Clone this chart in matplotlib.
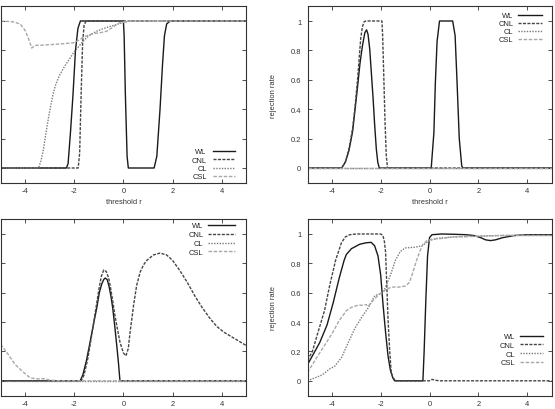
import matplotlib
matplotlib.use('Agg')
import matplotlib.pyplot as plt

plt.rcParams['font.family'] = ['Liberation Sans', 'DejaVu Sans']

# ---------------- data ----------------
series_names = ['WL', 'CNL', 'CL', 'CSL']
x_ticks = [-4, -2, 0, 2, 4]
y_ticks = [0, 0.2, 0.4, 0.6, 0.8, 1]
y_tick_labels = ['0', '0.2', '0.4', '0.6', '0.8', '1']
x_label = 'threshold r'
y_label = 'rejection rate'

# top-left panel
tl_wl_x = [-5, -2.32, -2.25, -2.15, -2.05, -1.95, -1.85, -1.75, 0.0, 0.03, 0.08, 0.15, 0.2,
           1.25, 1.36, 1.49, 1.59, 1.67, 1.76, 1.9, 5]
tl_wl_y = [0, 0, 0.03, 0.25, 0.5, 0.8, 0.95, 1, 1, 0.9, 0.5, 0.08, 0,
           0, 0.08, 0.4, 0.7, 0.9, 0.98, 1, 1]
tl_cnl_x = [-5, -1.84, -1.78, -1.72, -1.66, -1.6, -1.52, 5]
tl_cnl_y = [0, 0, 0.1, 0.5, 0.85, 0.97, 1, 1]
tl_cl_x = [-5, -3.45, -3.35, -3.25, -3.15, -3.05, -2.95, -2.85, -2.75, -2.6, -2.4, -2.2, -2.0,
           -1.8, -1.6, -1.4, -1.1, -0.7, -0.3, 0.0, 0.3, 5]
tl_cl_y = [0, 0, 0.05, 0.13, 0.24, 0.34, 0.43, 0.51, 0.57, 0.63, 0.69, 0.74, 0.79,
           0.83, 0.87, 0.9, 0.93, 0.955, 0.975, 0.99, 1, 1]
tl_csl_x = [-5, -4.5, -4.2, -4.0, -3.86, -3.73, -3.59, -3.3, -2.98, -2.5, -2.03, -1.8, -1.63,
            -1.4, -1.22, -0.95, -0.68, -0.41, -0.14, 0.2, 0.5, 5]
tl_csl_y = [1, 0.995, 0.98, 0.936, 0.88, 0.816, 0.834, 0.836, 0.839, 0.845, 0.852, 0.87, 0.89,
            0.905, 0.914, 0.92, 0.93, 0.96, 0.99, 0.998, 1, 1]

# top-right panel
tr_wl_x = [-5, -3.6, -3.45, -3.3, -3.15, -3.05, -2.95, -2.85, -2.75, -2.65, -2.58, -2.52, -2.45,
           -2.38, -2.31, -2.25, -2.18, -2.12, -2.06, 0.07, 0.18, 0.24, 0.31, 0.41, 0.95, 1.05,
           1.13, 1.22, 1.32, 1.37, 5]
tr_wl_y = [0, 0, 0.04, 0.12, 0.25, 0.4, 0.55, 0.71, 0.83, 0.92, 0.94, 0.91, 0.81,
           0.64, 0.47, 0.3, 0.13, 0.04, 0, 0, 0.24, 0.58, 0.86, 1, 1, 0.9,
           0.58, 0.2, 0.015, 0, 0]
tr_cnl_x = [-5, -3.6, -3.45, -3.3, -3.15, -3.05, -2.95, -2.88, -2.82, -2.75, -2.68, -2.6,
            -1.95, -1.92, -1.87, -1.82, -1.77, -1.72, 5]
tr_cnl_y = [0, 0, 0.04, 0.13, 0.27, 0.42, 0.6, 0.75, 0.88, 0.96, 0.995, 1,
            1, 0.9, 0.6, 0.3, 0.08, 0, 0]
tr_cl_x = [-5, 5]
tr_cl_y = [0, 0]
tr_csl_x = [-5, 5]
tr_csl_y = [0, 0]

# bottom-left panel
bl_wl_x = [-5, -1.76, -1.65, -1.5, -1.36, -1.2, -1.08, -0.98, -0.88, -0.8, -0.74, -0.66, -0.58,
           -0.5, -0.43, -0.35, -0.27, -0.2, -0.14, 5]
bl_wl_y = [0, 0, 0.04, 0.14, 0.26, 0.4, 0.5, 0.6, 0.66, 0.69, 0.70, 0.69, 0.64,
           0.57, 0.49, 0.37, 0.24, 0.12, 0, 0]
bl_cnl_x = [-5, -1.72, -1.6, -1.45, -1.3, -1.15, -1.0, -0.9, -0.8, -0.7, -0.6, -0.54, -0.44,
            -0.34, -0.24, -0.135, 0.0, 0.1, 0.2, 0.27, 0.35, 0.41, 0.54, 0.68, 0.82, 0.95,
            1.22, 1.49, 1.76, 2.0, 2.3, 2.6, 2.9, 3.2, 3.5, 3.8, 4.1, 4.4, 4.7, 5.0]
bl_cnl_y = [0, 0, 0.04, 0.15, 0.3, 0.46, 0.62, 0.71, 0.755, 0.745, 0.7, 0.65, 0.55,
            0.44, 0.35, 0.26, 0.19, 0.17, 0.22, 0.33, 0.43, 0.51, 0.65, 0.74, 0.79, 0.82,
            0.857, 0.87, 0.857, 0.82, 0.75, 0.67, 0.58, 0.5, 0.43, 0.37, 0.33, 0.3, 0.27, 0.24]
bl_cl_x = [-5, 5]
bl_cl_y = [0, 0]
bl_csl_x = [-5, -4.73, -4.4, -4.06, -3.79, -3.5, -3.25, -3.0, -2.6, 5]
bl_csl_y = [0.25, 0.19, 0.11, 0.057, 0.02, 0.013, 0.015, 0.005, 0, 0]

# bottom-right panel
br_wl_x = [-5, -4.8, -4.5, -4.2, -3.95, -3.7, -3.5, -3.41, -3.2, -2.86, -2.6, -2.39, -2.25,
           -2.11, -2.0, -1.91, -1.8, -1.7, -1.6, -1.5, -1.43, -0.27, -0.22, -0.15, -0.08,
           0.0, 0.1, 0.5, 1.0, 1.5, 1.8, 2.1, 2.3, 2.5, 2.7, 3.0, 3.5, 4.0, 5.0]
br_wl_y = [0.11, 0.17, 0.26, 0.38, 0.53, 0.7, 0.82, 0.86, 0.9, 0.93, 0.94, 0.943, 0.92,
           0.85, 0.72, 0.53, 0.33, 0.17, 0.07, 0.02, 0, 0, 0.2, 0.55, 0.85,
           0.975, 0.995, 1, 0.998, 0.995, 0.99, 0.975, 0.96, 0.955, 0.96, 0.975, 0.99, 0.995, 0.995]
br_cnl_x = [-5, -4.8, -4.57, -4.3, -4.09, -3.85, -3.61, -3.45, -3.27, -3.0, -2.0, -1.91, -1.85,
            -1.8, -1.75, -1.7, -1.63, -1.57, -1.5, -1.36, 0.0, 0.1, 0.2, 0.4, 5]
br_cnl_y = [0.14, 0.2, 0.33, 0.48, 0.65, 0.82, 0.94, 0.98, 0.995, 1, 1, 0.99, 0.95,
            0.877, 0.65, 0.42, 0.2, 0.06, 0.02, 0, 0, 0.01, 0.005, 0, 0]
br_cl_x = [-5, -4.7, -4.4, -4.1, -3.88, -3.6, -3.33, -3.05, -2.79, -2.5, -2.24, -1.9, -1.6,
           -1.4, -1.2, -1.0, -0.6, -0.3, 0.0, 0.3, 1.0, 2.0, 3.0, 5.0]
br_cl_y = [0, 0.02, 0.04, 0.08, 0.1, 0.16, 0.26, 0.36, 0.43, 0.5, 0.58, 0.6, 0.72,
           0.82, 0.88, 0.905, 0.91, 0.92, 0.955, 0.97, 0.98, 0.985, 0.99, 0.99]
br_csl_x = [-5, -4.5, -4.0, -3.7, -3.41, -3.2, -2.93, -2.7, -2.6, -2.52, -2.45, -2.3, -2.05,
            -1.8, -1.6, -1.45, -1.36, -1.2, -1.0, -0.82, -0.7, -0.55, -0.4, -0.27, -0.1,
            0.14, 0.5, 1.0, 2.0, 3.0, 5.0]
br_csl_y = [0.057, 0.19, 0.32, 0.41, 0.477, 0.5, 0.515, 0.515, 0.52, 0.506, 0.52, 0.55, 0.59,
            0.62, 0.635, 0.64, 0.636, 0.64, 0.645, 0.67, 0.73, 0.81, 0.88, 0.93, 0.955,
            0.965, 0.97, 0.98, 0.985, 0.99, 0.99]

# panel layout (left panels are cropped at the image edge, so their y texts are not visible;
# the bottom panels' x-axis titles fall below the picture)
panels = [
    dict(data=[(tl_wl_x, tl_wl_y), (tl_cnl_x, tl_cnl_y), (tl_cl_x, tl_cl_y), (tl_csl_x, tl_csl_y)],
         box=(0.5, 7.3, 246.3, 183.7), xlabel=True, ylabel=False,
         leg=(206.7, 212.7, 235.0, 152.0, 8.3)),
    dict(data=[(tr_wl_x, tr_wl_y), (tr_cnl_x, tr_cnl_y), (tr_cl_x, tr_cl_y), (tr_csl_x, tr_csl_y)],
         box=(307.5, 7.3, 551.5, 183.7), xlabel=True, ylabel=True,
         leg=(513.3, 518.3, 541.7, 15.5, 8.0)),
    dict(data=[(bl_wl_x, bl_wl_y), (bl_cnl_x, bl_cnl_y), (bl_cl_x, bl_cl_y), (bl_csl_x, bl_csl_y)],
         box=(0.5, 220.3, 246.3, 396.5), xlabel=False, ylabel=False,
         leg=(203.3, 208.3, 235.0, 226.0, 8.8)),
    dict(data=[(br_wl_x, br_wl_y), (br_cnl_x, br_cnl_y), (br_cl_x, br_cl_y), (br_csl_x, br_csl_y)],
         box=(307.5, 220.3, 551.5, 396.5), xlabel=False, ylabel=True,
         leg=(515.0, 520.0, 543.3, 336.7, 8.7)),
]

styles = [
    dict(color='#1a1a1a', lw=1.0, ls='-'),
    dict(color='#454545', lw=1.0, dashes=(2.2, 1.0)),
    dict(color='#7a7a7a', lw=1.0, dashes=(1.0, 1.0)),
    dict(color='#a8a8a8', lw=1.0, dashes=(2.5, 1.2)),
]

W, H = 555, 410
FS = 5.4
fig = plt.figure(figsize=(W / 100, H / 100), dpi=100)

for p in panels:
    l, t, r, b = p['box']
    ax = fig.add_axes([l / W, 1 - b / H, (r - l) / W, (b - t) / H])
    for (xs, ys), st in zip(p['data'], styles):
        ax.plot(xs, ys, **st)
    ax.set_xlim(-5, 5)
    ax.set_ylim(-0.1, 1.1)
    ax.set_xticks(x_ticks)
    ax.set_xticklabels([str(v) for v in x_ticks])
    ax.set_yticks(y_ticks)
    ax.set_yticklabels(y_tick_labels)
    ax.tick_params(direction='in', length=3.0, width=0.6, top=True, right=True,
                   labelsize=FS, colors='#333333')
    ax.tick_params(axis='x', pad=3.0)
    ax.tick_params(axis='y', pad=4.5)
    if not p['ylabel']:
        ax.tick_params(axis='y', labelleft=False)
    for s in ax.spines.values():
        s.set_linewidth(0.8)
        s.set_color('#333333')
    if p['xlabel']:
        ax.set_xlabel(x_label, fontsize=FS, color='#333333')
        ax.xaxis.set_label_coords(0.5, -((199.0 - b) / (b - t)))
    if p['ylabel']:
        ax.set_ylabel(y_label, fontsize=FS, color='#333333')
        ax.yaxis.set_label_coords((277.0 - 307.5) / (r - l), 0.5)
    # gnuplot-style key: label right-aligned, sample to the right
    tx, lx0, lx1, y0, dy = p['leg']
    for i, (name, st) in enumerate(zip(series_names, styles)):
        yy = y0 + i * dy
        fy = (b - yy) / (b - t)
        ax.text((tx - l) / (r - l), fy, name, transform=ax.transAxes, ha='right',
                va='center_baseline', fontsize=FS, color='#222222')
        ax.plot([(lx0 - l) / (r - l), (lx1 - l) / (r - l)], [fy, fy], transform=ax.transAxes,
                clip_on=False, **st)

fig.savefig('out.png', dpi=100)
